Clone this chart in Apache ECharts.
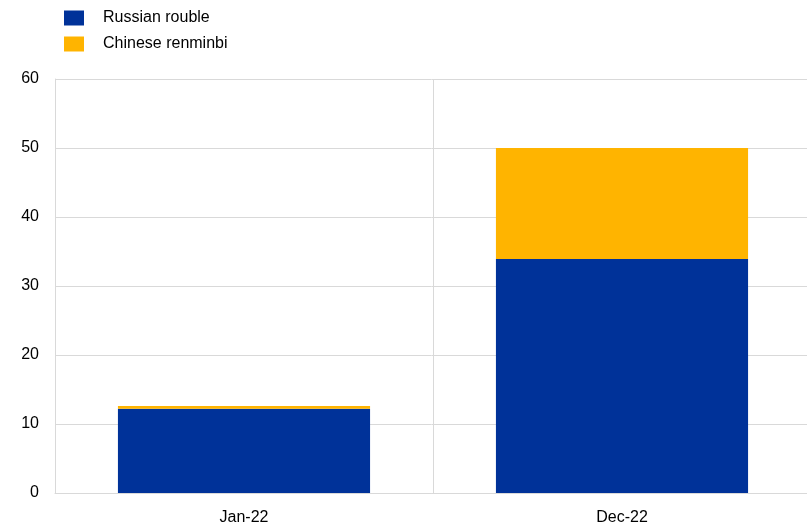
<!DOCTYPE html>
<html>
<head>
<meta charset="utf-8">
<script src="https://cdn.jsdelivr.net/npm/echarts@6/dist/echarts.min.js"></script>
<style>
html, body { margin: 0; padding: 0; background: #fff; }
#chart { width: 807px; height: 524px; }
</style>
</head>
<body>
<div id="chart"></div>
<script>
let categories = ['Jan-22', 'Dec-22'];
let roubleValues = [12.2, 33.9];
let renminbiValues = [0.4, 16.1];
let yTicks = [0, 10, 20, 30, 40, 50, 60];

let myChart = echarts.init(document.getElementById('chart'));
let font = 'Liberation Sans, Arial, sans-serif';

let option = {
    animation: false,
    textStyle: { fontFamily: font },
    grid: {
        left: 55,
        top: 79,
        width: 756,
        height: 414,
        outerBoundsMode: 'none',
        containLabel: false
    },
    legend: {
        orient: 'vertical',
        left: 64,
        top: 10,
        padding: 0,
        itemWidth: 20,
        itemHeight: 15,
        itemGap: 10,
        icon: 'rect',
        textStyle: { color: '#000', fontSize: 16, fontFamily: font, padding: [2, 0, 0, 14] },
        data: ['Russian rouble', 'Chinese renminbi']
    },
    xAxis: {
        type: 'category',
        data: categories,
        axisLine: { lineStyle: { color: '#d9d9d9' } },
        axisTick: { show: false },
        splitLine: { show: true, lineStyle: { color: '#d9d9d9' } },
        axisLabel: { color: '#000', fontSize: 16, fontFamily: font, margin: 17 }
    },
    yAxis: {
        type: 'value',
        min: yTicks[0],
        max: yTicks[yTicks.length - 1],
        interval: 10,
        axisLine: { show: true, lineStyle: { color: '#d9d9d9' } },
        axisTick: { show: false },
        splitLine: { show: true, lineStyle: { color: '#d9d9d9' } },
        axisLabel: { color: '#000', fontSize: 16, fontFamily: font, margin: 16 }
    },
    series: [
        {
            name: 'Russian rouble',
            type: 'bar',
            stack: 'total',
            barWidth: '66.7%',
            itemStyle: { color: '#003299' },
            data: roubleValues
        },
        {
            name: 'Chinese renminbi',
            type: 'bar',
            stack: 'total',
            itemStyle: { color: '#ffb400' },
            data: renminbiValues
        }
    ]
};
myChart.setOption(option);
</script>
</body>
</html>
